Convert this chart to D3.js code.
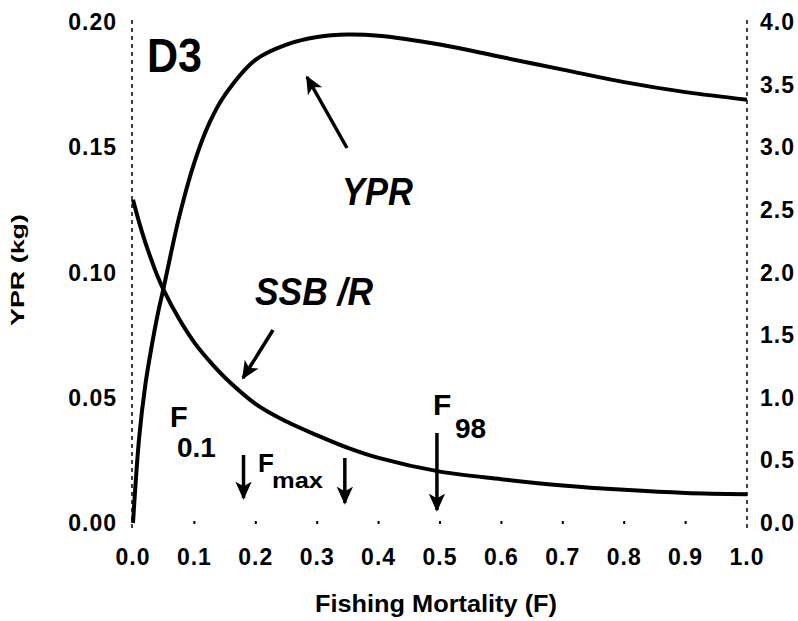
<!DOCTYPE html>
<html>
<head>
<meta charset="utf-8">
<script src="https://cdn.jsdelivr.net/npm/d3@7"></script>
<style>
  body { margin: 0; background: #fff; }
  text { font-family: "Liberation Sans", Arial, sans-serif; fill: #000; }
</style>
</head>
<body>
<div id="chart"></div>
<script>
// values
var fValues   = [0, 0.01, 0.02, 0.03, 0.04, 0.05, 0.075, 0.1, 0.125, 0.15, 0.2, 0.25, 0.3, 0.35, 0.4, 0.5, 0.6, 0.7, 0.8, 0.9, 1.0];
var yprValues = [0, 0.034, 0.055, 0.070, 0.083, 0.094, 0.122, 0.144, 0.160, 0.171, 0.185, 0.191, 0.194, 0.195, 0.1945, 0.191, 0.186, 0.181, 0.176, 0.172, 0.169];
var ssbValues = [2.58, 2.40, 2.24, 2.10, 1.97, 1.86, 1.63, 1.44, 1.29, 1.16, 0.95, 0.81, 0.70, 0.60, 0.52, 0.41, 0.35, 0.30, 0.265, 0.24, 0.23];

var xTicks     = [0, 0.1, 0.2, 0.3, 0.4, 0.5, 0.6, 0.7, 0.8, 0.9, 1.0];
var leftTicks  = [0, 0.05, 0.10, 0.15, 0.20];
var rightTicks = [0, 0.5, 1.0, 1.5, 2.0, 2.5, 3.0, 3.5, 4.0];

// reference points (F values) marked by arrows
var refPoints = [
  {f: 0.18, top: 455, bottom: 498},
  {f: 0.345, top: 458, bottom: 503},
  {f: 0.495, top: 433, bottom: 510}
];

var width = 798, height = 621;

var svg = d3.select('#chart')
  .append('svg')
  .attr('width', width)
  .attr('height', height);

var x = d3.scaleLinear().domain([0, 1]).range([133, 747]);
var yLeft = d3.scaleLinear().domain([0, 0.2]).range([523, 22]);
var yRight = d3.scaleLinear().domain([0, 4]).range([523, 22]);

svg.append('defs').append('marker')
  .attr('id', 'head')
  .attr('viewBox', '0 0 10 10')
  .attr('refX', 9).attr('refY', 5)
  .attr('markerWidth', 5.2).attr('markerHeight', 5.2)
  .attr('markerUnits', 'strokeWidth')
  .attr('orient', 'auto')
  .append('path')
  .attr('d', 'M0,0.5 L10,5 L0,9.5 L2.5,5 Z')
  .attr('fill', '#000');

// dashed side axes
[x(0) - 1, x(1)].forEach(function (px) {
  svg.append('line')
    .attr('x1', px).attr('x2', px)
    .attr('y1', 20).attr('y2', 530)
    .attr('stroke', '#000')
    .attr('stroke-width', 1.5)
    .attr('stroke-dasharray', '4,4');
});

// small x ticks
svg.selectAll('.xtick').data(xTicks.slice(1, -1))
  .enter().append('rect')
  .attr('x', function (d) { return x(d) - 1; })
  .attr('y', 521)
  .attr('width', 2).attr('height', 3)
  .attr('fill', '#000');

var tickFont = {size: 23, spacing: 1};

svg.selectAll('.xlab').data(xTicks)
  .enter().append('text')
  .attr('x', function (d) { return x(d); })
  .attr('y', 565)
  .attr('text-anchor', 'middle')
  .style('font-size', tickFont.size + 'px')
  .style('font-weight', 'bold')
  .style('letter-spacing', tickFont.spacing + 'px')
  .text(function (d) { return d.toFixed(1); });

svg.selectAll('.llab').data(leftTicks)
  .enter().append('text')
  .attr('x', 117)
  .attr('y', function (d) { return yLeft(d) + 8; })
  .attr('text-anchor', 'end')
  .style('font-size', tickFont.size + 'px')
  .style('font-weight', 'bold')
  .style('letter-spacing', tickFont.spacing + 'px')
  .text(function (d) { return d.toFixed(2); });

svg.selectAll('.rlab').data(rightTicks)
  .enter().append('text')
  .attr('x', 760)
  .attr('y', function (d) { return yRight(d) + 8; })
  .style('font-size', tickFont.size + 'px')
  .style('font-weight', 'bold')
  .style('letter-spacing', tickFont.spacing + 'px')
  .text(function (d) { return d.toFixed(1); });

// axis titles
svg.append('text')
  .attr('x', 436).attr('y', 612)
  .attr('text-anchor', 'middle')
  .attr('textLength', 242)
  .attr('lengthAdjust', 'spacingAndGlyphs')
  .style('font-size', '23px')
  .style('font-weight', 'bold')
  .text('Fishing Mortality (F)');

svg.append('text')
  .attr('transform', 'translate(24,270) rotate(-90)')
  .attr('text-anchor', 'middle')
  .attr('textLength', 112)
  .attr('lengthAdjust', 'spacingAndGlyphs')
  .style('font-size', '19px')
  .style('font-weight', 'bold')
  .text('YPR (kg)');

// curves
var yprLine = d3.line()
  .x(function (d, i) { return x(fValues[i]); })
  .y(function (d) { return yLeft(d); })
  .curve(d3.curveCatmullRom.alpha(0.5));

var ssbLine = d3.line()
  .x(function (d, i) { return x(fValues[i]); })
  .y(function (d) { return yRight(d); })
  .curve(d3.curveCatmullRom.alpha(0.5));

svg.append('path')
  .attr('d', yprLine(yprValues))
  .attr('fill', 'none')
  .attr('stroke', '#000')
  .attr('stroke-width', 4)
  .attr('stroke-linejoin', 'round');

svg.append('path')
  .attr('d', ssbLine(ssbValues))
  .attr('fill', 'none')
  .attr('stroke', '#000')
  .attr('stroke-width', 4)
  .attr('stroke-linejoin', 'round');

// panel label
svg.append('text')
  .attr('x', 147).attr('y', 72)
  .attr('textLength', 55)
  .attr('lengthAdjust', 'spacingAndGlyphs')
  .style('font-size', '48px')
  .style('font-weight', 'bold')
  .text('D3');

// curve labels with arrows
svg.append('text')
  .attr('x', 342).attr('y', 205)
  .attr('textLength', 71)
  .attr('lengthAdjust', 'spacingAndGlyphs')
  .style('font-size', '38px')
  .style('font-weight', 'bold')
  .style('font-style', 'italic')
  .text('YPR');

svg.append('text')
  .attr('x', 255).attr('y', 305)
  .attr('textLength', 118)
  .attr('lengthAdjust', 'spacingAndGlyphs')
  .style('font-size', '38px')
  .style('font-weight', 'bold')
  .style('font-style', 'italic')
  .text('SSB /R');

svg.append('line')
  .attr('x1', 347).attr('y1', 148)
  .attr('x2', 307).attr('y2', 77)
  .attr('stroke', '#000').attr('stroke-width', 3.5)
  .attr('marker-end', 'url(#head)');

svg.append('line')
  .attr('x1', 273).attr('y1', 330)
  .attr('x2', 243).attr('y2', 378)
  .attr('stroke', '#000').attr('stroke-width', 3.5)
  .attr('marker-end', 'url(#head)');

// reference point arrows
svg.selectAll('.refArrow').data(refPoints)
  .enter().append('line')
  .attr('x1', function (d) { return x(d.f); })
  .attr('x2', function (d) { return x(d.f); })
  .attr('y1', function (d) { return d.top; })
  .attr('y2', function (d) { return d.bottom; })
  .attr('stroke', '#000').attr('stroke-width', 3.5)
  .attr('marker-end', 'url(#head)');

// F0.1
svg.append('text').attr('x', 170).attr('y', 427)
  .style('font-size', '29px').style('font-weight', 'bold').text('F');
svg.append('text').attr('x', 177).attr('y', 457)
  .style('font-size', '28px').style('font-weight', 'bold').text('0.1');
// Fmax
svg.append('text').attr('x', 258).attr('y', 472)
  .style('font-size', '26px').style('font-weight', 'bold').text('F');
svg.append('text').attr('x', 272).attr('y', 488)
  .attr('textLength', 51).attr('lengthAdjust', 'spacingAndGlyphs')
  .style('font-size', '22px').style('font-weight', 'bold').text('max');
// F98
svg.append('text').attr('x', 433).attr('y', 415)
  .style('font-size', '30px').style('font-weight', 'bold').text('F');
svg.append('text').attr('x', 455).attr('y', 438)
  .style('font-size', '28px').style('font-weight', 'bold').text('98');
</script>
</body>
</html>
